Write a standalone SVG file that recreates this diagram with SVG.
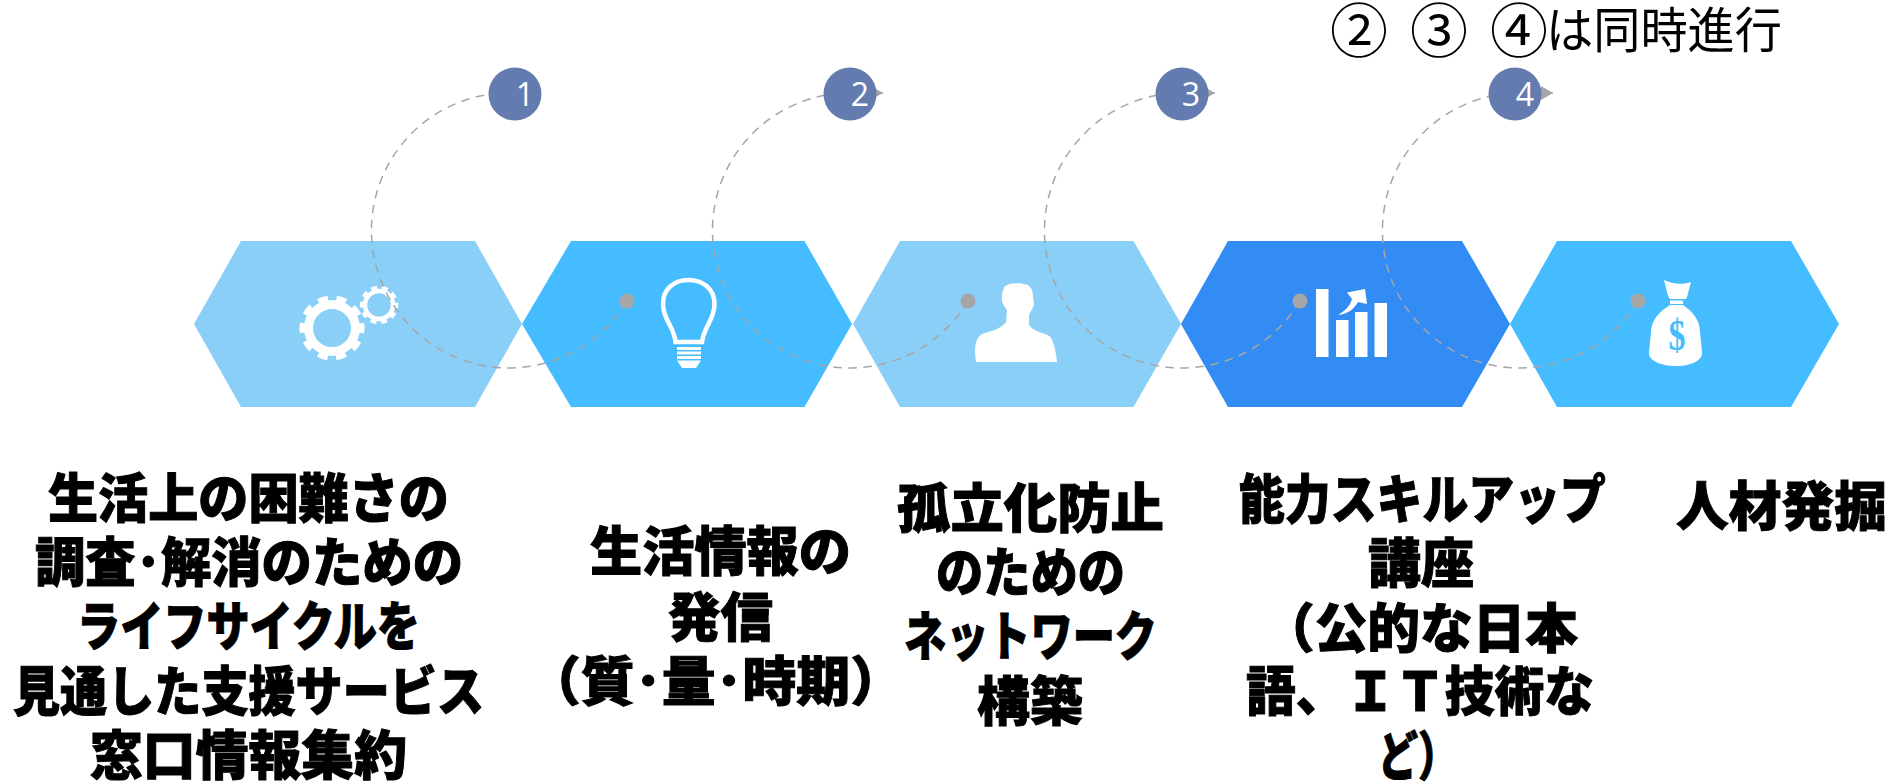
<svg xmlns="http://www.w3.org/2000/svg" width="1896" height="783" viewBox="0 0 1896 783">
<style>
.lt{fill:#89CFF8}.md{fill:#45BCFF}.dk{fill:#338CF3}
.ic{fill:#fff}
.cn{fill:none;stroke:#A6A6A6;stroke-width:1.5;stroke-dasharray:8.5 6.5}
.dot{fill:#A6A6A6}
.bd{fill:#647BAF}
.num{font-family:"Open Sans","DejaVu Sans",sans-serif;font-weight:400;font-size:32px;fill:#fff;text-anchor:middle}
.lb{font-family:"Noto Sans CJK JP",sans-serif;font-weight:900;font-size:53px;fill:#000;stroke:#000;stroke-width:1}
.top{font-family:"Noto Sans CJK JP",sans-serif;font-weight:400;font-size:49px;fill:#000}
.cd{font-family:"Noto Sans CJK JP",sans-serif;font-weight:400;font-size:58px;fill:#000;text-anchor:middle}
</style>
<defs>
<marker id="ah" markerUnits="userSpaceOnUse" markerWidth="14" markerHeight="16" refX="12" refY="7" orient="auto"><path d="M0 0L12 7L0 14Z" fill="#A6A6A6"/></marker>
</defs>
<rect width="1896" height="783" fill="#fff"/>

<g id="node-1">
<polygon class="lt" points="194,324 241,241 475,241 522,324 475,407 241,407"/>
<circle cx="332" cy="328" r="23.5" fill="none" stroke="#fff" stroke-width="9"/>
<circle cx="332" cy="328" r="29.5" fill="none" stroke="#fff" stroke-width="6" stroke-dasharray="10 8.53" stroke-dashoffset="5"/>
<circle cx="379" cy="305" r="14" fill="none" stroke="#fff" stroke-width="4.5"/>
<circle cx="379" cy="305" r="17.5" fill="none" stroke="#fff" stroke-width="3.5" stroke-dasharray="6 5" stroke-dashoffset="3"/>
<text class="lb" x="48" y="518" textLength="401" lengthAdjust="spacingAndGlyphs">生活上の困難さの</text>
<text class="lb" x="35" y="582" textLength="428" lengthAdjust="spacingAndGlyphs">調査･解消のための</text>
<text class="lb" x="77" y="646" textLength="343" lengthAdjust="spacingAndGlyphs">ライフサイクルを</text>
<text class="lb" x="13" y="711" textLength="471" lengthAdjust="spacingAndGlyphs">見通した支援サービス</text>
<text class="lb" x="90" y="775" textLength="317" lengthAdjust="spacingAndGlyphs">窓口情報集約</text>
</g>

<g id="node-2">
<polygon class="md" points="522,324 571,241 804.500,241 852,324 804.500,407 571,407"/>
<path d="M675.500 342C674 326 663 320 663 304C663 288 675 280 688.500 280C702 280 714.500 288 714.500 304C714.500 320 704 326 702 342Z" fill="none" stroke="#fff" stroke-width="4.500"/>
<rect class="ic" x="677" y="347" width="24" height="3"/>
<rect class="ic" x="677" y="351.500" width="24" height="3"/>
<rect class="ic" x="677" y="356" width="24" height="3"/>
<polygon class="ic" points="677,360.500 701,360.500 696,368 682,368"/>
<text class="lb" x="590" y="571" textLength="261" lengthAdjust="spacingAndGlyphs">生活情報の</text>
<text class="lb" x="668" y="637" textLength="105" lengthAdjust="spacingAndGlyphs">発信</text>
<text class="lb" x="527" y="701" textLength="377" lengthAdjust="spacingAndGlyphs">（質･量･時期）</text>
</g>

<g id="node-3">
<polygon class="lt" points="853,324 900,241 1133.500,241 1181,324 1133.500,407 900,407"/>
<path class="ic" d="M976 362C974 348 975 338 982 334C990 331 1000 330 1006 322L1007 310C1003 305 1001 301 1002 297C1002 292 1003 290 1005 286L1008 285L1009 284C1015 283 1022 283 1028 285C1032 288 1033 292 1033 297L1034 305C1032 310 1030 312 1029 316L1029 325C1032 329 1036 331 1042 333C1048 335 1051 336 1052 340C1055 346 1056 354 1057 362Z"/>
<text class="lb" x="897" y="528" textLength="267" lengthAdjust="spacingAndGlyphs">孤立化防止</text>
<text class="lb" x="936" y="592" textLength="189" lengthAdjust="spacingAndGlyphs">のための</text>
<text class="lb" x="904" y="656" textLength="253" lengthAdjust="spacingAndGlyphs">ネットワーク</text>
<text class="lb" x="977" y="721" textLength="106" lengthAdjust="spacingAndGlyphs">構築</text>
</g>

<g id="node-4">
<polygon class="dk" points="1181,324 1228,241 1462,241 1510,324 1462,407 1228,407"/>
<rect class="ic" x="1316" y="289" width="12.500" height="68"/>
<rect class="ic" x="1336" y="320" width="12.500" height="37"/>
<rect class="ic" x="1355" y="312" width="12.500" height="45"/>
<rect class="ic" x="1374.500" y="303" width="12.500" height="54"/>
<path class="ic" d="M1365 289L1347 292.500L1352 299C1350 306 1345 311 1338 315C1348 314 1354 309 1358 302L1367 304Z"/>
<text class="lb" x="1239" y="519" textLength="367" lengthAdjust="spacingAndGlyphs">能力スキルアップ</text>
<text class="lb" x="1368" y="583" textLength="106" lengthAdjust="spacingAndGlyphs">講座</text>
<text class="lb" x="1262" y="648" textLength="316" lengthAdjust="spacingAndGlyphs">（公的な日本</text>
<text class="lb" x="1246" y="711" textLength="348" lengthAdjust="spacingAndGlyphs">語、ＩＴ技術な</text>
<text class="lb" x="1378" y="776" textLength="80" lengthAdjust="spacingAndGlyphs">ど）</text>
</g>

<g id="node-5">
<polygon class="md" points="1510,324 1557,241 1791,241 1839,324 1791,407 1557,407"/>
<path class="ic" d="M1664 280C1672 284 1682 285 1691 282L1687 297L1686 299L1670 299L1668 296Z"/>
<rect class="ic" x="1670" y="300.500" width="13" height="3.500"/>
<path class="ic" d="M1670 305L1683 305C1692 311 1700 320 1700 332L1702 352C1703 360 1692 366 1676 366C1660 366 1648 360 1649 352L1651 332C1651 320 1660 311 1670 305Z"/>
<text x="1677" y="350" text-anchor="middle" font-family="Liberation Serif,serif" font-weight="700" font-size="44" fill="#45BCFF" textLength="17" lengthAdjust="spacingAndGlyphs">$</text>
<text class="lb" x="1676" y="526" textLength="211" lengthAdjust="spacingAndGlyphs">人材発掘</text>
</g>

<g id="connectors">
<path class="cn" d="M627 301A137.500 137.500 0 1 1 507.500 93L535 93" marker-end="url(#ah)"/>
<path class="cn" d="M968 301A137.500 137.500 0 1 1 848.500 93L883 93" marker-end="url(#ah)"/>
<path class="cn" d="M1300 301A137.500 137.500 0 1 1 1180.500 93L1215 93" marker-end="url(#ah)"/>
<path class="cn" d="M1638 301A137.500 137.500 0 1 1 1518.500 93L1553 93" marker-end="url(#ah)"/>
<circle class="dot" cx="627" cy="301" r="7.500"/>
<circle class="dot" cx="968" cy="301" r="7.500"/>
<circle class="dot" cx="1300" cy="301" r="7.500"/>
<circle class="dot" cx="1638" cy="301" r="7.500"/>
</g>

<g id="badge-1"><circle class="bd" cx="515" cy="94" r="26.500"/><text class="num" x="525" y="106">1</text></g>
<g id="badge-2"><circle class="bd" cx="850" cy="94" r="26.500"/><text class="num" x="860" y="106">2</text></g>
<g id="badge-3"><circle class="bd" cx="1182" cy="94" r="26.500"/><text class="num" x="1191" y="106">3</text></g>
<g id="badge-4"><circle class="bd" cx="1515" cy="94" r="26.500"/><text class="num" x="1525" y="106">4</text></g>

<g id="note">
<text class="cd" y="52"><tspan x="1359">②</tspan><tspan x="1439">③</tspan><tspan x="1519">④</tspan></text>
<text class="top" x="1546" y="48" textLength="236" lengthAdjust="spacingAndGlyphs">は同時進行</text>
</g>
</svg>
